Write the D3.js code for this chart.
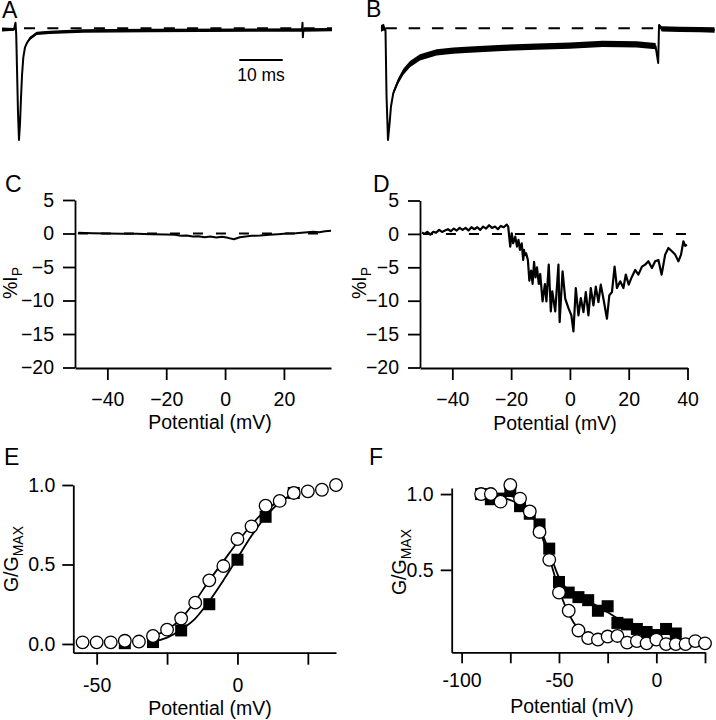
<!DOCTYPE html>
<html><head><meta charset="utf-8">
<script src="https://cdn.jsdelivr.net/npm/d3@7/dist/d3.min.js"></script>
<style>
body{margin:0;background:#fff}
svg text{font-family:"Liberation Sans",Arial,Helvetica,sans-serif;fill:#000}
</style></head><body>
<svg id="fig" width="716" height="720"></svg>
<script>
// ---------- Panel A: current trace (time in ms, normalized current) ----------
const aTime    = [0, 2.76, 3.11, 3.27, 3.45, 3.68, 3.91, 4.15, 4.38, 4.61, 4.91, 5.3, 5.69, 6.45, 7.99, 11.05, 18.65, 34.1, 57.1, 69.1, 69.2, 69.3, 69.4, 76];
const aCurrent = [-0.01,-0.01,0.05,-0.05,-0.35,-0.75,-1.0,-0.85,-0.62,-0.42,-0.26,-0.17,-0.134,-0.09,-0.045,-0.036,-0.024,-0.02,-0.016,-0.015,0.05,-0.08,-0.015,-0.012];
const aNoise   = [0.018,0.012,0,0,0,0,0,0,0,0,0.004,0.008,0.012,0.015,0.015,0.015,0.015,0.015,0.015,0.015,0,0,0.015,0.015];
const aZeroSpan = [5.07, 76];
const scaleBarStart = 54.65, scaleBarMs = 10, scaleBarLevel = -0.284;
const scaleBarLabel = "10 ms";

// ---------- Panel B: current trace ----------
const bTime    = [0, 0.69, 1.04, 1.27, 1.61, 1.96, 2.3, 2.83, 3.45, 3.98, 5.14, 6.68, 8.98, 12.83, 16.65, 20.5, 28.1, 35.86, 43.53, 51.1, 58.9, 63.3, 63.9, 64.1, 64.7, 68.9, 73.5, 76.9];
const bCurrent = [0.0, 0.01, -0.02, -0.6, -1.0, -0.86, -0.7, -0.58, -0.52, -0.47, -0.39, -0.32, -0.26, -0.215, -0.2, -0.19, -0.175, -0.165, -0.155, -0.14, -0.145, -0.16, -0.31, 0.03, -0.005, -0.01, -0.012, -0.015];
const bNoise   = [0.03, 0.03, 0.01, 0, 0, 0.005, 0.01, 0.02, 0.024, 0.026, 0.028, 0.028, 0.028, 0.028, 0.028, 0.028, 0.028, 0.028, 0.028, 0.028, 0.028, 0.028, 0, 0.01, 0.024, 0.024, 0.024, 0.024];
const bZeroSpan = [1.0, 63.5];

// ---------- Panel C: %IP vs potential ----------
const cPot = [-50,-45,-40,-35,-30,-25,-20,-17,-15,-13,-11,-9,-7,-5,-3,-1,1,3,5,7,9,12,15,18,21,24,27,30,32,34,36];
const cVal = [0.1,0.05,0.0,-0.05,-0.05,-0.1,-0.15,-0.2,-0.35,-0.3,-0.45,-0.4,-0.55,-0.45,-0.6,-0.5,-0.65,-0.85,-0.55,-0.45,-0.35,-0.3,-0.2,-0.1,0.0,0.05,0.15,0.25,0.2,0.35,0.4];
const cXTicks = [-40,-20,0,20];
const cdYTicks = [5,0,-5,-10,-15,-20];

// ---------- Panel D: %IP vs potential ----------
const dPot = [-50.3,-49.5,-48.5,-47.5,-46.5,-45.5,-44.5,-43.5,-42.5,-41.5,-40.5,-39.5,-38.5,-37.5,-36.5,-35.5,-34.5,-33.5,-32.5,-31.5,-30.5,-29.5,-28.5,-27.5,-26.5,-25.5,-24.5,-23.5,-22.5,-21.5,-21,
  -20.3,-19.8,-19.3,-18.6,-18.0,-17.5,-17.0,-16.4,-15.9,-15.6,-15.4,-14.9,-14.3,-13.8,-13.2,-12.7,-12.2,-11.7,-11.2,-10.6,-10.1,-9.3,-8.5,-8.0,-7.2,-6.5,-6.0,-5.0,-3.9,-3.5,-2.5,-1.6,-0.5,0.5,1.2,2.0,2.9,3.7,4.6,5.4,6.3,7.1,8.0,8.8,9.7,10.5,11.4,12.6,13.4,14.3,15.2,16.0,17.1,18.2,19.0,20.0,21.1,22.2,23.3,24.5,25.6,26.7,27.9,29.0,30.1,31.2,32.4,33.5,34.7,35.8,36.9,37.8,38.6,39.2,39.8];
const dVal = [0.2,0.0,0.3,-0.1,0.3,0.2,0.6,0.3,0.5,0.7,0.4,0.8,0.5,0.9,0.6,0.9,0.5,1.0,0.7,1.0,0.6,1.1,0.8,1.3,0.9,1.1,0.7,1.2,1.0,1.4,1.1,
  -1.9,0.1,-1.4,-0.4,-1.9,-0.9,-2.4,-1.4,-3.9,-2.4,-3.2,-2.9,-3.9,-7.0,-5.5,-7.5,-4.2,-6.5,-5.0,-7.5,-6.0,-10.1,-7.5,-10.1,-4.6,-11.6,-8.6,-11.6,-4.6,-13.2,-5.6,-9.7,-11.1,-12.2,-14.6,-8.1,-12.2,-9.6,-11.7,-8.7,-12.2,-8.1,-10.7,-7.9,-10.2,-7.6,-9.7,-12.7,-9.2,-8.7,-4.9,-8.1,-7.1,-8.1,-6.1,-7.6,-6.4,-5.4,-6.1,-4.9,-4.6,-4.1,-5.1,-4.1,-3.9,-6.1,-3.1,-2.1,-2.6,-3.1,-4.1,-3.1,-1.1,-1.8,-1.6];
const dXTicks = [-40,-20,0,20,40];

// ---------- Panel E: activation G/Gmax ----------
const ePotCircle = [-55,-50,-45,-40,-35,-30,-25,-20,-15,-10,-5,0,5,10,15,20,25,30,35];
const eGCircle   = [0.01,0.01,0.01,0.02,0.015,0.05,0.09,0.16,0.26,0.40,0.49,0.66,0.74,0.87,0.90,0.95,0.96,0.97,1.00];
const ePotSquare = [-40,-30,-20,-10,0,10,20];
const eGSquare   = [0.005,0.012,0.085,0.25,0.53,0.80,0.95];
const eFitPotCircle = [-32,-30,-25,-20,-15,-10,-5,0,5,10,15,20];
const eFitGCircle   = [0.04,0.05,0.09,0.16,0.27,0.40,0.52,0.64,0.75,0.84,0.90,0.94];
const eFitPotSquare = [-32,-30,-25,-20,-15,-10,-5,0,5,10,15,20];
const eFitGSquare   = [0.01,0.015,0.04,0.09,0.16,0.27,0.40,0.54,0.68,0.80,0.89,0.94];
const eXTicks = [-50,-25,0,25];
const eXLabels = {"-50":"-50","0":"0"};
const eYTicks = [0,0.5,1];

// ---------- Panel F: inactivation G/Gmax ----------
const fPotCircle = [-90,-85,-80,-75,-70,-65,-60,-55,-50,-45,-40,-35,-30,-25,-20,-15,-10,-5,0,5,10,15,20,25];
const fGCircle   = [1.0,1.0,0.95,1.06,0.97,0.885,0.75,0.566,0.35,0.23,0.10,0.05,0.04,0.06,0.064,0.02,0.03,0.015,0.04,0.01,0.01,0.01,0.03,0.015];
const fPotSquare = [-90,-85,-80,-75,-70,-65,-60,-55,-50,-45,-40,-35,-30,-25,-20,-15,-10,-5,0,5,10];
const fGSquare   = [1.0,0.966,0.97,1.02,0.92,0.87,0.80,0.64,0.42,0.35,0.32,0.30,0.23,0.26,0.15,0.14,0.11,0.09,0.07,0.11,0.08];
const fFitPotSquare = [-90,-85,-80,-75,-70,-65,-60,-55,-50,-45,-40,-35,-30,-25,-20,-15,-10,-5,0,5,10];
const fFitGSquare   = [1.0,0.99,0.98,0.96,0.93,0.87,0.78,0.62,0.45,0.36,0.32,0.29,0.26,0.22,0.18,0.15,0.12,0.10,0.09,0.08,0.07];
const fFitPotCircle = [-80,-75,-70,-65,-60,-55,-50,-45,-40,-35,-30];
const fFitGCircle   = [1.0,0.99,0.96,0.89,0.76,0.58,0.37,0.21,0.11,0.06,0.04];
const fXTicks = [-100,-75,-50,-25,0,25];
const fXLabels = {"-100":"-100","-50":"-50","0":"0"};
const fYTicks = [0.5,1];

const xTitle = "Potential (mV)";
const panelLabels = ["A","B","C","D","E","F"];

// =====================================================================
const svg = d3.select("#fig");
const FS = 19.5;

function trace(x, y, xs, ys, width) {
  svg.append("path")
    .attr("d", d3.line().x((d,i)=>x(xs[i])).y((d,i)=>y(ys[i]))(xs))
    .attr("fill","none").attr("stroke","#000").attr("stroke-width",width)
    .attr("stroke-linejoin","round");
}
function band(x, y, xs, ys, ns) {
  svg.append("path")
    .attr("d", d3.area().x((d,i)=>x(xs[i])).y0((d,i)=>y(ys[i]-ns[i])).y1((d,i)=>y(ys[i]+ns[i]))(xs))
    .attr("fill","#000");
}
function dashed(x, y, span, dash) {
  svg.append("line").attr("x1",x(span[0])).attr("x2",x(span[1]))
    .attr("y1",y(0)).attr("y2",y(0))
    .attr("stroke","#000").attr("stroke-width",2).attr("stroke-dasharray",dash);
}
function styleAxis(g) {
  g.selectAll("path.domain").attr("stroke","#000").attr("stroke-width",1.8);
  g.selectAll(".tick line").attr("stroke","#000").attr("stroke-width",1.8);
  g.selectAll(".tick text").style("font-size",FS+"px").attr("fill","#000");
  g.attr("font-family",null);
}
function yTitle(tx, ty, main, sub) {
  const t = svg.append("text").attr("transform",`translate(${tx},${ty}) rotate(-90)`)
    .attr("text-anchor","middle").style("font-size",FS+"px");
  t.append("tspan").text(main);
  t.append("tspan").attr("dy",4.5).style("font-size","14px").text(sub);
}
function xTitleAt(tx, ty) {
  svg.append("text").attr("x",tx).attr("y",ty).attr("text-anchor","middle")
    .style("font-size",FS+"px").text(xTitle);
}
function panelLabel(i, px, py) {
  svg.append("text").attr("x",px).attr("y",py).style("font-size","23px").text(panelLabels[i]);
}

// ---------- A ----------
const xA = d3.scaleLinear().domain([0,76]).range([2,332]);
const yA = d3.scaleLinear().domain([-1,0]).range([140,28.3]);
dashed(xA, yA, aZeroSpan, "11,12.3");
band(xA, yA, aTime, aCurrent, aNoise);
trace(xA, yA, aTime, aCurrent, 2);
svg.append("line").attr("x1",xA(scaleBarStart)).attr("x2",xA(scaleBarStart+scaleBarMs))
  .attr("y1",yA(scaleBarLevel)).attr("y2",yA(scaleBarLevel)).attr("stroke","#000").attr("stroke-width",2);
svg.append("text").attr("x",xA(scaleBarStart+scaleBarMs/2)).attr("y",yA(scaleBarLevel)+21)
  .attr("text-anchor","middle").style("font-size","17.5px").text(scaleBarLabel);
panelLabel(0, 2, 18);

// ---------- B ----------
const xB = d3.scaleLinear().domain([0,77]).range([381,715]);
const yB = d3.scaleLinear().domain([-1,0]).range([140,28.3]);
dashed(xB, yB, bZeroSpan, "11.5,11.8");
band(xB, yB, bTime, bCurrent, bNoise);
trace(xB, yB, bTime, bCurrent, 2);
panelLabel(1, 366, 17);

// ---------- C ----------
const xC = d3.scaleLinear().domain([-51,36]).range([75,331]);
const yC = d3.scaleLinear().domain([-20,5]).range([367.5,200]);
dashed(xC, yC, [-50,36], "10,13");
trace(xC, yC, cPot, cVal, 2);
let g = svg.append("g").attr("transform",`translate(75,0)`)
  .call(d3.axisLeft(yC).tickValues(cdYTicks).tickFormat(d3.format("d")).tickSize(12).tickPadding(9).tickSizeOuter(0));
styleAxis(g);
g = svg.append("g").attr("transform",`translate(0,368)`)
  .call(d3.axisBottom(xC).tickValues(cXTicks).tickFormat(d3.format("d")).tickSize(12).tickPadding(12).tickSizeOuter(0));
styleAxis(g);
yTitle(17, 283, "%I", "P");
xTitleAt(210, 429);
panelLabel(2, 5, 192);

// ---------- D ----------
const xD = d3.scaleLinear().domain([-51,40]).range([420,687.5]);
const yD = d3.scaleLinear().domain([-20,5]).range([367.5,200.5]);
dashed(xD, yD, [-50,40], "10,13");
trace(xD, yD, dPot, dVal, 2.2);
g = svg.append("g").attr("transform",`translate(420,0)`)
  .call(d3.axisLeft(yD).tickValues(cdYTicks).tickFormat(d3.format("d")).tickSize(12).tickPadding(9).tickSizeOuter(0));
styleAxis(g);
g = svg.append("g").attr("transform",`translate(0,368)`)
  .call(d3.axisBottom(xD).tickValues(dXTicks).tickFormat(d3.format("d")).tickSize(12).tickPadding(12).tickSizeOuter(0));
styleAxis(g);
yTitle(366, 283, "%I", "P");
xTitleAt(555, 430);
panelLabel(3, 373, 192);

// ---------- E ----------
const xE = d3.scaleLinear().domain([-58.3,35]).range([73.3,336]);
const yE = d3.scaleLinear().domain([-0.055,1]).range([652.7,485]);
g = svg.append("g").attr("transform",`translate(73.3,0)`)
  .call(d3.axisLeft(yE).tickValues(eYTicks).tickFormat(d3.format(".1f")).tickSize(11).tickPadding(7).tickSizeOuter(0));
styleAxis(g);
g = svg.append("g").attr("transform",`translate(0,652.7)`)
  .call(d3.axisBottom(xE).tickValues(eXTicks).tickFormat(d=>eXLabels[String(d)]||"").tickSize(12).tickPadding(13).tickSizeOuter(0));
styleAxis(g);
function fitLine(x, y, xs, ys) {
  svg.append("path")
    .attr("d", d3.line().x((d,i)=>x(xs[i])).y((d,i)=>y(ys[i])).curve(d3.curveMonotoneX)(xs))
    .attr("fill","none").attr("stroke","#000").attr("stroke-width",1.8);
}
function squares(x, y, xs, ys) {
  svg.append("g").selectAll("rect").data(xs).join("rect")
    .attr("x",(d,i)=>x(xs[i])-6).attr("y",(d,i)=>y(ys[i])-6)
    .attr("width",12).attr("height",12).attr("fill","#000");
}
function circles(x, y, xs, ys) {
  svg.append("g").selectAll("circle").data(xs).join("circle")
    .attr("cx",(d,i)=>x(xs[i])).attr("cy",(d,i)=>y(ys[i])).attr("r",6.3)
    .attr("fill","#fff").attr("stroke","#000").attr("stroke-width",1.3);
}
fitLine(xE, yE, eFitPotSquare, eFitGSquare);
fitLine(xE, yE, eFitPotCircle, eFitGCircle);
squares(xE, yE, ePotSquare, eGSquare);
circles(xE, yE, ePotCircle, eGCircle);
yTitle(18, 559, "G/G", "MAX");
xTitleAt(210, 715);
panelLabel(4, 4, 465);

// ---------- F ----------
const xF = d3.scaleLinear().domain([-105.1,25]).range([451.7,705]);
const yF = d3.scaleLinear().domain([-0.044,1.04]).range([652.3,488]);
g = svg.append("g").attr("transform",`translate(451.7,0)`)
  .call(d3.axisLeft(yF).tickValues(fYTicks).tickFormat(d3.format(".1f")).tickSize(11).tickPadding(7).tickSizeOuter(0));
styleAxis(g);
g = svg.append("g").attr("transform",`translate(0,652.3)`)
  .call(d3.axisBottom(xF).tickValues(fXTicks).tickFormat(d=>fXLabels[String(d)]||"").tickSize(11).tickPadding(10).tickSizeOuter(0));
styleAxis(g);
fitLine(xF, yF, fFitPotSquare, fFitGSquare);
fitLine(xF, yF, fFitPotCircle, fFitGCircle);
squares(xF, yF, fPotSquare, fGSquare);
circles(xF, yF, fPotCircle, fGCircle);
yTitle(406, 562, "G/G", "MAX");
xTitleAt(572, 713);
panelLabel(5, 369, 465);
</script>
</body></html>
